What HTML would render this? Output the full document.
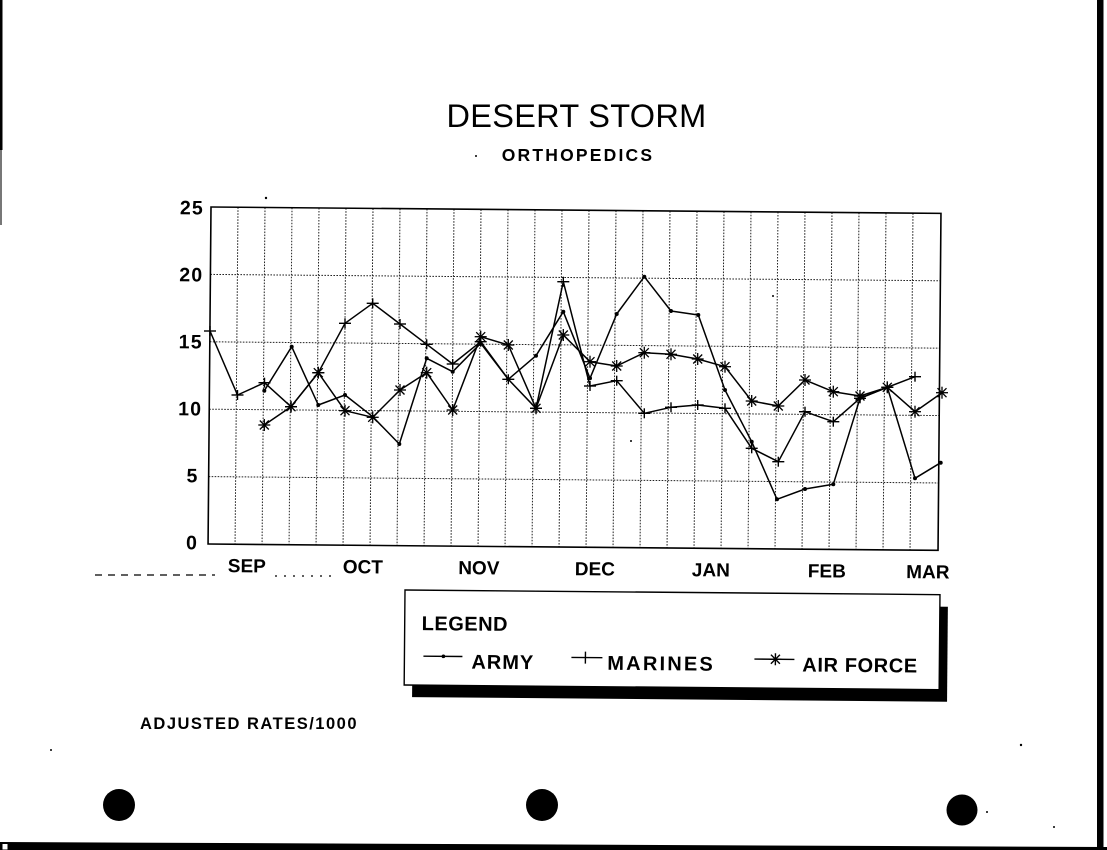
<!DOCTYPE html>
<html>
<head>
<meta charset="utf-8">
<style>
  html,body{margin:0;padding:0;background:#fff;}
  body{width:1107px;height:850px;overflow:hidden;}
  svg{display:block;}
  text{font-family:"Liberation Sans", Arial, sans-serif;fill:#000;}
</style>
</head>
<body>
<svg width="1107" height="850" viewBox="0 0 1107 850" xmlns="http://www.w3.org/2000/svg">
  <rect x="0" y="0" width="1107" height="850" fill="#fff"/>

  <!-- page edges -->
  <rect x="0" y="0" width="2.5" height="150" fill="#000"/>
  <rect x="0" y="150" width="2" height="75" fill="#777"/>
  <rect x="1097" y="0" width="6.5" height="850" fill="#000"/>
  <polygon points="0,842 1107,847 1107,850 0,850" fill="#000"/>
  <rect x="2" y="843.5" width="6" height="6.5" fill="#fff" stroke="#000" stroke-width="1"/>

  <!-- left dashed baseline fragments -->
  <line x1="95" y1="575" x2="215" y2="575" stroke="#000" stroke-width="1.3" stroke-dasharray="7 6"/>
  <line x1="275" y1="576" x2="338" y2="576" stroke="#000" stroke-width="1.3" stroke-dasharray="2 7"/>

  <!-- Title -->
  <text x="576.5" y="127" font-size="32.5" text-anchor="middle" letter-spacing="0.3">DESERT STORM</text>
  <text x="578" y="161" font-size="17.5" font-weight="bold" text-anchor="middle" letter-spacing="2.2">ORTHOPEDICS</text>
  <circle cx="476" cy="156" r="1" fill="#000"/>

  <!-- Rotated chart frame / grid / labels -->
  <g transform="rotate(0.5 211 207)">
    <g stroke="#222" stroke-width="1" stroke-dasharray="1.6 1.4" fill="none">
      <line x1="238" y1="207" x2="238" y2="544"/>
      <line x1="265" y1="207" x2="265" y2="544"/>
      <line x1="292" y1="207" x2="292" y2="544"/>
      <line x1="319" y1="207" x2="319" y2="544"/>
      <line x1="346" y1="207" x2="346" y2="544"/>
      <line x1="373" y1="207" x2="373" y2="544"/>
      <line x1="400" y1="207" x2="400" y2="544"/>
      <line x1="427" y1="207" x2="427" y2="544"/>
      <line x1="454" y1="207" x2="454" y2="544"/>
      <line x1="481" y1="207" x2="481" y2="544"/>
      <line x1="508" y1="207" x2="508" y2="544"/>
      <line x1="535" y1="207" x2="535" y2="544"/>
      <line x1="562" y1="207" x2="562" y2="544"/>
      <line x1="589" y1="207" x2="589" y2="544"/>
      <line x1="616" y1="207" x2="616" y2="544"/>
      <line x1="643" y1="207" x2="643" y2="544"/>
      <line x1="670" y1="207" x2="670" y2="544"/>
      <line x1="697" y1="207" x2="697" y2="544"/>
      <line x1="724" y1="207" x2="724" y2="544"/>
      <line x1="751" y1="207" x2="751" y2="544"/>
      <line x1="778" y1="207" x2="778" y2="544"/>
      <line x1="805" y1="207" x2="805" y2="544"/>
      <line x1="832" y1="207" x2="832" y2="544"/>
      <line x1="859" y1="207" x2="859" y2="544"/>
      <line x1="886" y1="207" x2="886" y2="544"/>
      <line x1="913" y1="207" x2="913" y2="544"/>
      <line x1="211" y1="274.4" x2="941" y2="274.4"/>
      <line x1="211" y1="341.8" x2="941" y2="341.8"/>
      <line x1="211" y1="409.2" x2="941" y2="409.2"/>
      <line x1="211" y1="476.6" x2="941" y2="476.6"/>
    </g>
    <rect x="211" y="207" width="730" height="337" fill="none" stroke="#000" stroke-width="1.6"/>

    <g font-size="19.5" font-weight="bold" text-anchor="end" letter-spacing="1.2">
      <text x="204" y="214.5">25</text>
      <text x="204" y="281.5">20</text>
      <text x="204" y="348.5">15</text>
      <text x="204" y="415.5">10</text>
      <text x="201" y="482.5">5</text>
      <text x="201" y="549.5">0</text>
    </g>
    <g font-size="19" font-weight="bold" text-anchor="middle">
      <text x="250" y="572">SEP</text>
      <text x="366" y="572">OCT</text>
      <text x="482" y="572">NOV</text>
      <text x="598" y="572">DEC</text>
      <text x="714" y="572">JAN</text>
      <text x="830" y="572">FEB</text>
      <text x="931" y="572">MAR</text>
    </g>
  </g>

  <!-- Series lines -->
  <g fill="none" stroke="#000" stroke-width="1.5" stroke-linejoin="round">
    <!-- Marines -->
    <polyline points="210,331 237.5,395 264.5,382.7 291,406.7 318.3,372.7 345,323.3 372.7,303.3 400,324 426.7,344.3 452.7,364 480.7,341.7 508.3,379.3 536,408.3 563.3,281.7 590,386 616.7,380.7 644.3,413.3 671,407.3 697.7,405 725,408.3 751.7,448.3 778.3,461.7 805,411.7 833.3,421.7 860,398.3 887.3,387.3 915,376.7"/>
    <!-- Army -->
    <polyline points="264.3,390.7 291.7,346.7 318.3,405 345,395 372.7,416.7 399.3,444 426.7,358.3 452.7,371.7 480.7,343.3 508.3,379.3 536,355.7 563.3,311.7 590,378.3 616.7,314 644.3,276.7 671,311 698.3,315 725,390 751.7,441.7 777,499.3 805,489 833.3,484.3 860,398.3 887.3,387.3 915,478.3 940.7,462.7"/>
    <!-- Air Force -->
    <polyline points="264.3,425 291,406.7 318.3,372.7 345,410.7 372.7,417.3 400,390 426.7,372.7 452.7,410 480.7,336.7 508.3,345 536,408.3 563.3,335 590,361.7 616.7,366 644.3,352.7 671,354.3 697.7,359 725,366.7 751.7,401 778.3,406 805,380 833.3,391.7 860,396 887.3,387.3 915,411.7 942,392.7"/>
  </g>

  <defs>
    <g id="plus"><line x1="-6" y1="0" x2="6" y2="0"/><line x1="0" y1="-5" x2="0" y2="5"/></g>
    <g id="star"><line x1="-6" y1="0" x2="6" y2="0"/><line x1="0" y1="-6" x2="0" y2="6"/><line x1="-4.5" y1="-4.5" x2="4.5" y2="4.5"/><line x1="-4.5" y1="4.5" x2="4.5" y2="-4.5"/></g>
  </defs>

  <!-- Marines markers -->
  <g stroke="#000" stroke-width="1.4">
    <use href="#plus" x="210" y="331"/><use href="#plus" x="237.5" y="395"/><use href="#plus" x="264.5" y="382.7"/>
    <use href="#plus" x="291" y="406.7"/><use href="#plus" x="318.3" y="372.7"/><use href="#plus" x="345" y="323.3"/>
    <use href="#plus" x="372.7" y="303.3"/><use href="#plus" x="400" y="324"/><use href="#plus" x="426.7" y="344.3"/>
    <use href="#plus" x="452.7" y="364"/><use href="#plus" x="480.7" y="341.7"/><use href="#plus" x="508.3" y="379.3"/>
    <use href="#plus" x="536" y="408.3"/><use href="#plus" x="563.3" y="281.7"/><use href="#plus" x="590" y="386"/>
    <use href="#plus" x="616.7" y="380.7"/><use href="#plus" x="644.3" y="413.3"/><use href="#plus" x="671" y="407.3"/>
    <use href="#plus" x="697.7" y="405"/><use href="#plus" x="725" y="408.3"/><use href="#plus" x="751.7" y="448.3"/>
    <use href="#plus" x="778.3" y="461.7"/><use href="#plus" x="805" y="411.7"/><use href="#plus" x="833.3" y="421.7"/>
    <use href="#plus" x="860" y="398.3"/><use href="#plus" x="887.3" y="387.3"/><use href="#plus" x="915" y="376.7"/>
  </g>

  <!-- Air force markers -->
  <g stroke="#000" stroke-width="1.3">
    <use href="#star" x="264.3" y="425"/><use href="#star" x="291" y="406.7"/><use href="#star" x="318.3" y="372.7"/>
    <use href="#star" x="345" y="410.7"/><use href="#star" x="372.7" y="417.3"/><use href="#star" x="400" y="390"/>
    <use href="#star" x="426.7" y="372.7"/><use href="#star" x="452.7" y="410"/><use href="#star" x="480.7" y="336.7"/>
    <use href="#star" x="508.3" y="345"/><use href="#star" x="536" y="408.3"/><use href="#star" x="563.3" y="335"/>
    <use href="#star" x="590" y="361.7"/><use href="#star" x="616.7" y="366"/><use href="#star" x="644.3" y="352.7"/>
    <use href="#star" x="671" y="354.3"/><use href="#star" x="697.7" y="359"/><use href="#star" x="725" y="366.7"/>
    <use href="#star" x="751.7" y="401"/><use href="#star" x="778.3" y="406"/><use href="#star" x="805" y="380"/>
    <use href="#star" x="833.3" y="391.7"/><use href="#star" x="860" y="396"/><use href="#star" x="887.3" y="387.3"/>
    <use href="#star" x="915" y="411.7"/><use href="#star" x="942" y="392.7"/>
  </g>

  <!-- Army dots -->
  <g fill="#000">
    <circle cx="264.3" cy="390.7" r="2"/><circle cx="291.7" cy="346.7" r="2"/><circle cx="318.3" cy="405" r="2"/>
    <circle cx="345" cy="395" r="2"/><circle cx="372.7" cy="416.7" r="2"/><circle cx="399.3" cy="444" r="2"/>
    <circle cx="426.7" cy="358.3" r="2"/><circle cx="452.7" cy="371.7" r="2"/><circle cx="480.7" cy="343.3" r="2"/>
    <circle cx="508.3" cy="379.3" r="2"/><circle cx="536" cy="355.7" r="2"/><circle cx="563.3" cy="311.7" r="2"/>
    <circle cx="590" cy="378.3" r="2"/><circle cx="616.7" cy="314" r="2"/><circle cx="644.3" cy="276.7" r="2"/>
    <circle cx="671" cy="311" r="2"/><circle cx="698.3" cy="315" r="2"/><circle cx="725" cy="390" r="2"/>
    <circle cx="751.7" cy="441.7" r="2"/><circle cx="777" cy="499.3" r="2"/><circle cx="805" cy="489" r="2"/>
    <circle cx="833.3" cy="484.3" r="2"/><circle cx="860" cy="398.3" r="2"/><circle cx="887.3" cy="387.3" r="2"/>
    <circle cx="915" cy="478.3" r="2"/><circle cx="940.7" cy="462.7" r="2"/>
  </g>

  <!-- Legend -->
  <g transform="rotate(0.5 405 590)">
    <rect x="413" y="602" width="535" height="95" fill="#000"/>
    <rect x="405" y="590" width="535" height="95" fill="#fff" stroke="#000" stroke-width="1.4"/>
    <text x="422" y="630" font-size="20" font-weight="bold" letter-spacing="0.5">LEGEND</text>
    <g stroke="#000" stroke-width="1.4">
      <line x1="424" y1="656" x2="463" y2="656"/>
      <line x1="572" y1="656" x2="603" y2="656"/>
      <line x1="586" y1="650" x2="586" y2="662"/>
      <line x1="755" y1="656" x2="795" y2="656"/>
      <use href="#star" x="776" y="656"/>
    </g>
    <circle cx="444" cy="656" r="1.8" fill="#000"/>
    <g font-size="20" font-weight="bold">
      <text x="472" y="668" letter-spacing="1">ARMY</text>
      <text x="608" y="668" letter-spacing="2.2">MARINES</text>
      <text x="803" y="668" letter-spacing="0.6">AIR FORCE</text>
    </g>
  </g>

  <!-- Footer note -->
  <text x="140" y="729" font-size="16.5" font-weight="bold" letter-spacing="1.5">ADJUSTED RATES/1000</text>

  <!-- binder holes -->
  <circle cx="119" cy="805" r="16" fill="#000"/>
  <circle cx="542" cy="805" r="16" fill="#000"/>
  <circle cx="962" cy="810" r="15.5" fill="#000"/>

  <!-- specks -->
  <g fill="#000">
    <circle cx="266" cy="198" r="1.2"/>
    <circle cx="631" cy="441" r="1"/>
    <circle cx="1021" cy="745" r="1.2"/>
    <circle cx="1054" cy="827" r="1"/>
    <circle cx="987" cy="812" r="1"/>
    <circle cx="51" cy="750" r="1"/>
    <circle cx="773" cy="296" r="1"/>
  </g>
</svg>
</body>
</html>
